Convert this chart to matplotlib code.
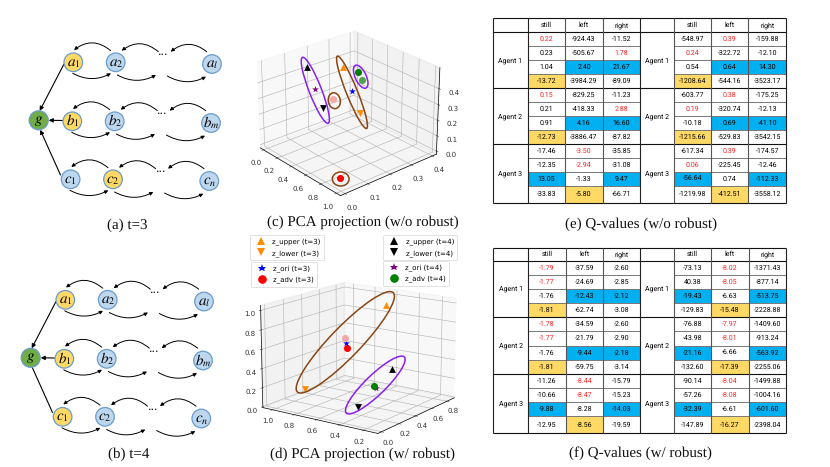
import numpy as np
import matplotlib
matplotlib.use('Agg')
import matplotlib.pyplot as plt
from matplotlib.patches import Circle, Ellipse, FancyArrowPatch, Rectangle
from matplotlib.lines import Line2D

plt.rcParams['mathtext.fontset'] = 'stix'
plt.rcParams['grid.linewidth'] = 0.4
plt.rcParams['axes.linewidth'] = 0.5
plt.rcParams['xtick.major.width'] = 0.4
plt.rcParams['ytick.major.width'] = 0.4
plt.rcParams['text.hinting'] = 'no_hinting'
plt.rcParams['text.hinting_factor'] = 1

W, H = 830, 467

# PCA points: upper3, lower3, ori3, adv3, upper4, lower4, ori4, adv4, then the pale adv points
c_x = [0.434, 0.547, 0.494, 0.927, 0.256, 0.381, 0.337, 0.493, 0.426, 0.510]
c_y = [0.20, 0.24, 0.22, 0.02, 0.10, 0.13, 0.11, 0.25, 0.16, 0.26]
c_z = [0.504, 0.216, 0.356, 0.028, 0.508, 0.265, 0.389, 0.459, 0.318, 0.407]
d_x = [0.76, 0.138, 0.225, 0.236, 0.358, 0.036, 0.240, 0.214, 0.211]
d_y = [0.60, 0.85, 0.55, 0.55, 0.25, 0.30, 0.30, 0.30, 0.55]
d_z = [0.92, 0.176, 0.691, 0.643, 0.452, 0.170, 0.280, 0.318, 0.747]

# Q-value tables
e_left = [[0.22, -924.43, -11.52], [0.23, -505.67, 1.78], [1.04, 2.40, 21.67], [-13.72, -3984.29, -89.09],
          [0.15, -829.25, -11.23], [0.21, -418.33, 2.88], [0.91, 4.16, 16.60], [-12.73, -3886.47, -87.82],
          [-17.46, -3.50, -35.85], [-12.35, -2.94, -31.08], [13.05, -1.33, 9.47], [-33.83, -5.80, -66.71]]
e_right = [[-548.97, 0.39, -159.88], [0.24, -322.72, -12.10], [0.54, 0.64, 14.30], [-1208.64, -544.16, -3523.17],
           [-603.77, 0.38, -175.25], [0.19, -320.74, -12.13], [-10.18, 0.69, -41.10], [-1215.66, -529.83, -3542.15],
           [-617.34, 0.39, -174.57], [0.06, -225.45, -12.46], [-56.64, 0.74, -112.33], [-1219.98, -412.51, -3558.12]]
f_left = [[-1.79, -37.59, -2.60], [-1.77, -24.69, -2.85], [-1.76, -12.43, -2.12], [-1.81, -62.74, -3.08],
          [-1.78, -34.59, -2.60], [-1.77, -21.79, -2.90], [-1.76, -9.44, -2.18], [-1.81, -59.75, -3.14],
          [-11.26, -8.44, -15.79], [-10.66, -8.47, -15.23], [-9.88, -8.28, -14.03], [-12.95, -8.56, -19.59]]
f_right = [[-73.13, -8.02, -1371.43], [40.38, -8.05, -877.14], [-19.43, -6.63, -513.75], [-129.83, -15.48, -2228.88],
           [-76.88, -7.97, -1409.60], [-43.98, -8.01, -913.24], [-21.16, -6.66, -563.92], [-132.60, -17.39, -2255.06],
           [-90.14, -8.04, -1499.88], [-57.26, -8.08, -1004.16], [-32.39, -6.61, -601.60], [-147.89, -16.27, -2398.04]]

actions = ['still', 'left', 'right']
agents = ['Agent 1', 'Agent 2', 'Agent 3']

# (row, col) of highlighted cells
e_left_red = [(0, 0), (1, 2), (4, 0), (5, 2), (8, 1), (9, 1)]
e_right_red = [(0, 1), (1, 0), (4, 1), (5, 0), (8, 1), (9, 0)]
e_blue = [(2, 1), (2, 2), (6, 1), (6, 2), (10, 0), (10, 2)]
e_yellow = [(3, 0), (7, 0), (11, 1)]
f_left_red = [(0, 0), (1, 0), (4, 0), (5, 0), (8, 1), (9, 1)]
f_right_red = [(0, 1), (1, 1), (4, 1), (5, 1), (8, 1), (9, 1)]
f_left_blue = [(2, 1), (2, 2), (6, 1), (6, 2), (10, 0), (10, 2)]
f_right_blue = [(2, 0), (2, 2), (6, 0), (6, 2), (10, 0), (10, 2)]
f_left_yellow = [(3, 0), (7, 0), (11, 1)]
f_right_yellow = [(3, 1), (7, 1), (11, 1)]

# graph nodes
row_names = [('a', 'l'), ('b', 'm'), ('c', 'n')]
yellow_t3 = ['a1', 'b1', 'c2']
yellow_t4 = ['a1', 'b1', 'c1']

YELLOW = '#ffd966'
BLUE = '#bdd7ee'
EDGE = '#6a9ccb'
CELL_BLUE = '#00b0f0'
BROWN = '#8b4513'
VIOLET = '#8a1ff0'
TABLE_FONT = 'Roboto'

fig = plt.figure(figsize=(W / 100, H / 100), dpi=100)


def scatter_points(ax, xs, ys, zs):
    styles = [('^', '#ff8c00', 24), ('v', '#ff8c00', 24), ('*', 'blue', 26), ('o', 'red', 26),
              ('^', 'black', 24), ('v', 'black', 24), ('*', 'purple', 26), ('o', 'green', 26),
              ('o', '#f4a9a9', 26), ('o', '#4fa34f', 26)]
    for (m, c, s), x, y, z in zip(styles, xs, ys, zs):
        ax.scatter([x], [y], [z], marker=m, c=c, s=s, depthshade=False, linewidths=0)


def make_3d(center, size, elev, azim, xlim, ylim, zlim, xt, yt, zt, pad):
    cx, cy = center
    ax = fig.add_axes([(cx - size / 2) / W, 1 - (cy + size / 2) / H, size / W, size / H], projection='3d')
    ax.view_init(elev=elev, azim=azim)
    ax.patch.set_alpha(0)
    ax.set_xlim(*xlim)
    ax.set_ylim(*ylim)
    ax.set_zlim(*zlim)
    ax.set_xticks(xt)
    ax.set_yticks(yt)
    ax.set_zticks(zt)
    ax.tick_params(labelsize=5.3, pad=pad, colors='#333333')
    return ax


ax_c = make_3d((345.06, 111.42), 198, 25.7, -40.6, (-0.05, 1.05), (-0.02, 0.42), (-0.02, 0.53),
               [0, 0.2, 0.4, 0.6, 0.8, 1.0], [0, 0.1, 0.2, 0.3, 0.4], [0, 0.1, 0.2, 0.3, 0.4], -2)
scatter_points(ax_c, c_x, c_y, c_z)

ax_d = make_3d((357, 355.7), 216, 14.8, -144.8, (-0.04, 0.9), (0.08, 1.09), (-0.01, 1.05),
               [0, 0.2, 0.4, 0.6, 0.8], [0.2, 0.4, 0.6, 0.8, 1.0], [0, 0.2, 0.4, 0.6, 0.8, 1.0], -3.5)
scatter_points(ax_d, d_x, d_y, d_z)

# overlay in pixel coordinates
ov = fig.add_axes([0, 0, 1, 1], zorder=5)
ov.set_xlim(0, W)
ov.set_ylim(H, 0)
ov.axis('off')

# ellipses around the point groups
for cx, cy, w, h, ang, col in [(315.3, 90.3, 70.7, 12.4, 68.7, VIOLET), (352, 92.3, 78, 11, 68, BROWN),
                               (334.3, 100.7, 16, 12, 80, BROWN), (360.7, 76.7, 25, 11, 65, VIOLET),
                               (340.7, 179, 16.7, 14, 0, BROWN),
                               (345.3, 342.3, 138, 30, -46, BROWN), (375.3, 385, 80.7, 20, -44, VIOLET)]:
    ov.add_patch(Ellipse((cx, cy), w, h, angle=ang, fill=False, edgecolor=col, lw=1.1))


def draw_arc(a, b, ox, oy, rad):
    ov.add_patch(FancyArrowPatch((a[0] + ox, a[1] + oy), (b[0] + ox, b[1] + oy),
                                 connectionstyle='arc3,rad=%.2f' % rad, arrowstyle='-|>',
                                 mutation_scale=5, lw=0.7, color='black', shrinkA=0, shrinkB=0))


def draw_graph(dx, dy, yellow, last_arrow):
    g = (38.7 + dx, 120.3 + dy)
    row_off = [(0, 0), (-1, 59), (-2.7, 117)]
    node_x = [73.3, 115.7, 212]
    node_y = [62.3, 62.3, 64]
    top = [((110.7, 50.7), (74, 50)), ((158.3, 51.7), (121.7, 50.7)), ((206.7, 51.7), (170.7, 51.7))]
    bot = [((72.7, 73.3), (111, 73.3)), ((117.3, 75), (156, 75)), ((167.3, 76), (206, 76.7))]
    for r, (stem, end) in enumerate(row_names):
        ox, oy = row_off[r][0] + dx, row_off[r][1] + dy
        for sub, x, y in zip(['1', '2', end], node_x, node_y):
            col = YELLOW if stem + sub in yellow else BLUE
            ov.add_patch(Circle((x + ox, y + oy), 9.3, facecolor=col, edgecolor=EDGE, lw=0.9, zorder=3))
            ov.text(x + ox, y + oy, '$%s_{%s}$' % (stem, sub), ha='center', va='center', fontsize=10.5, zorder=4)
        for a, b in top:
            draw_arc(a, b, ox, oy, 0.4)
        for a, b in bot:
            draw_arc(a, b, ox, oy, 0.27)
        ov.text(163.3 + ox, 52 + oy, '...', ha='center', va='center', fontsize=8)
    ov.add_patch(Circle(g, 9.5, facecolor='#70ad47', edgecolor=EDGE, lw=0.9, zorder=3))
    ov.text(g[0], g[1], '$g$', ha='center', va='center', fontsize=10.5, zorder=4)
    starts = [(64 + dx, 64 + dy), (62.5 + dx, 120.5 + dy), (60.5 + dx, 175 + dy)]
    ends = [(g[0] + 1, g[1] - 9.5), (g[0] + 10, g[1]), (g[0] + 1.5, g[1] + 9.5)]
    for i, (s, e) in enumerate(zip(starts, ends)):
        style = '-' if (i == 2 and not last_arrow) else '-|>'
        ov.add_patch(FancyArrowPatch(s, e, arrowstyle=style, mutation_scale=6, lw=0.8, color='black',
                                     shrinkA=0, shrinkB=0, zorder=2))


draw_graph(0, 0, yellow_t3, True)
draw_graph(-8, 237.5, yellow_t4, False)


def draw_table(xs, ys, left, right, red_l, red_r, blue_l, blue_r, yel_l, yel_r):
    for start, vals, red, blue, yel in [(1, left, red_l, blue_l, yel_l), (5, right, red_r, blue_r, yel_r)]:
        for r in range(12):
            for c in range(3):
                x0, x1 = xs[start + c], xs[start + c + 1]
                y0, y1 = ys[r + 1], ys[r + 2]
                if (r, c) in blue:
                    ov.add_patch(Rectangle((x0, y0), x1 - x0, y1 - y0, facecolor=CELL_BLUE, lw=0))
                elif (r, c) in yel:
                    ov.add_patch(Rectangle((x0, y0), x1 - x0, y1 - y0, facecolor=YELLOW, lw=0))
                col = '#ff2020' if (r, c) in red else 'black'
                ov.text((x0 + x1) / 2, (y0 + y1) / 2, '%.2f' % vals[r][c], ha='center', va='center',
                        fontsize=4.7, color=col, family=TABLE_FONT)
        for c in range(3):
            ov.text((xs[start + c] + xs[start + c + 1]) / 2, (ys[0] + ys[1]) / 2, actions[c], ha='center',
                    va='center', fontsize=5, color='black', family=TABLE_FONT)
        for a in range(3):
            ov.text((xs[start - 1] + xs[start]) / 2, (ys[1 + 4 * a] + ys[5 + 4 * a]) / 2, agents[a], ha='center',
                    va='center', fontsize=5.3, color='black', family=TABLE_FONT)
    # rules
    for k, y in enumerate(ys):
        heavy = (k - 1) % 4 == 0 or k == 0
        if heavy:
            ov.plot([xs[0], xs[8]], [y, y], color='#111111', lw=0.8, solid_capstyle='butt')
        else:
            for i0, i1 in [(1, 4), (5, 8)]:
                ov.plot([xs[i0], xs[i1]], [y, y], color='#777777', lw=0.7, solid_capstyle='butt')
    for i, x in enumerate(xs):
        ov.plot([x, x], [ys[0], ys[-1]], color='#222222' if i in (0, 1, 4, 8) else '#555555', lw=0.8,
                solid_capstyle='butt')


e_xs = [493.3, 527.7, 565.3, 602.7, 640, 673.7, 711.3, 748.3, 786]
e_ys = [18.3, 32.3, 46.3, 60.3, 74.3, 88.3, 102.3, 116.3, 130.3, 144.3, 158.3, 172.3, 186.3, 202.7]
f_xs = [493.3, 528.3, 565.7, 603, 640.3, 674, 711.3, 748.7, 785.7]
f_ys = [247.7, 261, 275.3, 289.3, 303.3, 317.3, 331.3, 345.7, 359.7, 373.7, 388, 402.3, 416.3, 433.3]
draw_table(e_xs, e_ys, e_left, e_right, e_left_red, e_right_red, e_blue, e_blue, e_yellow, e_yellow)
draw_table(f_xs, f_ys, f_left, f_right, f_left_red, f_right_red, f_left_blue, f_right_blue, f_left_yellow,
           f_right_yellow)

# captions
for cx, cy, s in [(127.7, 225, '(a) t=3'), (128.7, 454.3, '(b) t=4'),
                  (362.7, 222.3, '(c) PCA projection (w/o robust)'), (362.7, 454, '(d) PCA projection (w/ robust)'),
                  (640.7, 224, '(e) Q-values (w/o robust)'), (640.7, 453.3, '(f) Q-values (w/ robust)')]:
    ov.text(cx, cy, s, ha='center', va='center', fontsize=11, family='Liberation Serif', color='#111111')


def make_legend(x, y, entries):
    handles = [Line2D([], [], linestyle='none', marker=m, color=c, markersize=6.2, markeredgewidth=0, label=t)
               for m, c, t in entries]
    leg = fig.legend(handles=handles, loc='upper left', bbox_to_anchor=(x / W, 1 - y / H), fontsize=5,
                     frameon=True, borderaxespad=0, borderpad=0.5, labelspacing=0.6, handletextpad=0.5,
                     handlelength=2.2)
    leg.get_frame().set_linewidth(0.5)
    leg.set_zorder(6)


make_legend(250, 235, [('^', '#ff8c00', 'z_upper (t=3)'), ('v', '#ff8c00', 'z_lower (t=3)')])
make_legend(251, 261.7, [('*', 'blue', 'z_ori (t=3)'), ('o', 'red', 'z_adv (t=3)')])
make_legend(383.3, 235, [('^', 'black', 'z_upper (t=4)'), ('v', 'black', 'z_lower (t=4)')])
make_legend(382.7, 260.7, [('*', 'purple', 'z_ori (t=4)'), ('o', 'green', 'z_adv (t=4)')])

fig.savefig('out.png', dpi=100)
